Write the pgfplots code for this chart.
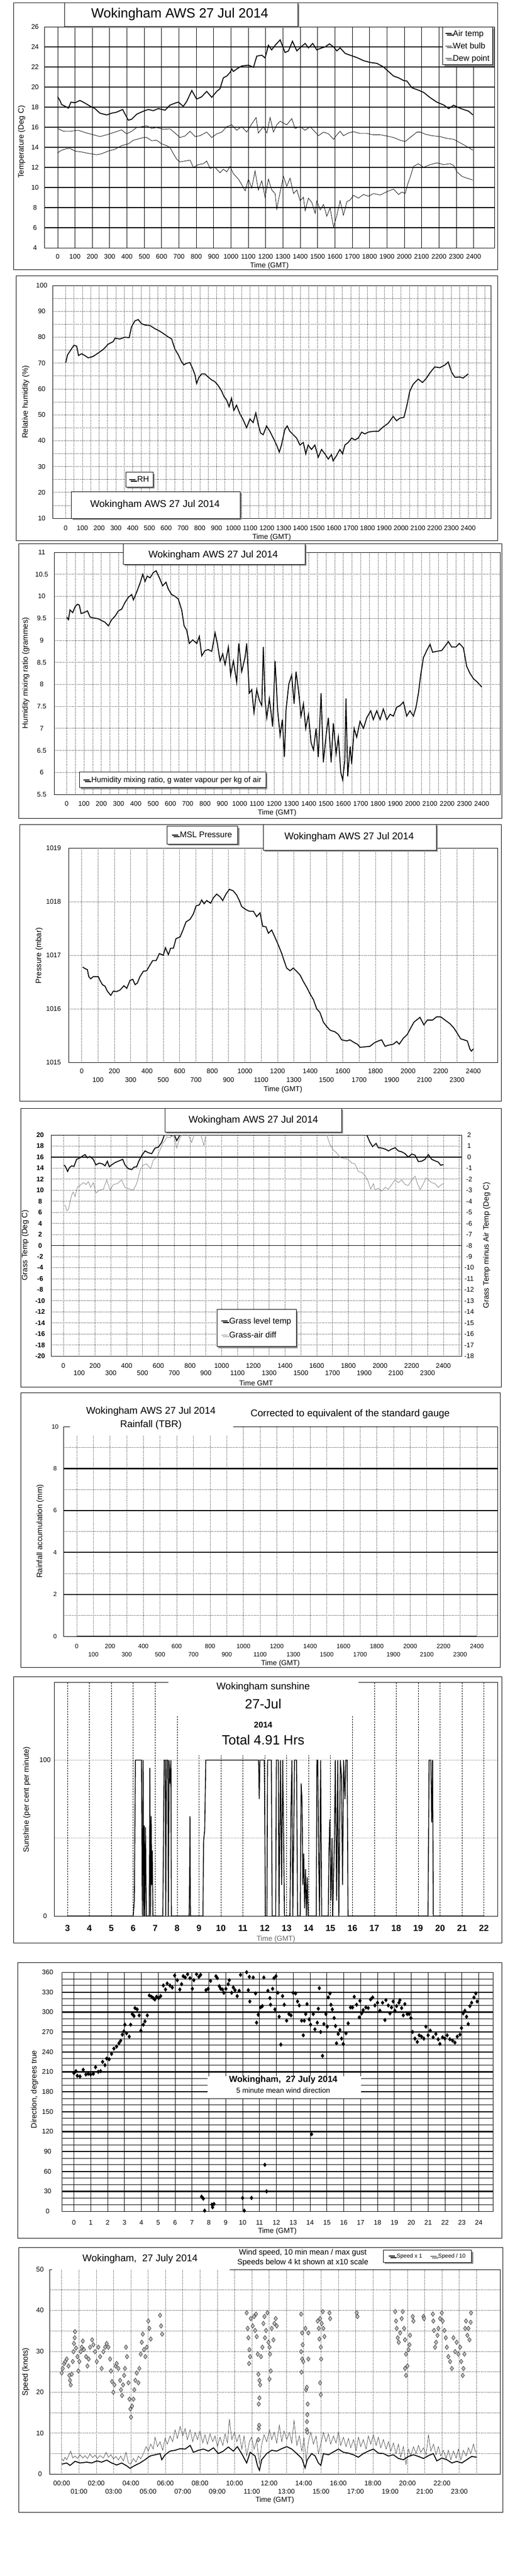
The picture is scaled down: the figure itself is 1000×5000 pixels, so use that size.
\documentclass[border=0pt]{standalone}
\usepackage{fontspec}
\setmainfont{Liberation Sans}
\usepackage{pgfplots}
\pgfplotsset{compat=1.18}
\usetikzlibrary{shadows}
\newcommand{\fs}[1]{\fontsize{#1pt}{#1pt}\selectfont}
\tikzset{
  shad/.style={drop shadow={shadow xshift=3pt, shadow yshift=-3pt, fill=black!45, opacity=1}},
  tbox/.style={draw=black, line width=1pt, fill=white, shad},
}
\pgfplotsset{
  base/.style={scale only axis, anchor=north west,
    axis line style={line width=0.9pt},
    tick style={draw=none}, major tick length=0pt, minor tick length=0pt,
    ticklabel style={font=\fs{13}},
    xlabel style={font=\fs{14}}, ylabel style={font=\fs{15}},
    /pgf/number format/assume math mode=true,
    /pgf/number format/1000 sep={},
    legend cell align=left,
    legend style={draw=black, line width=0.9pt, fill=white, shad, font=\fs{16}},
    legend image code/.code={\draw[##1] (0pt,0pt) -- (12pt,0pt);},
  },
  dotgrid/.style={grid style={black!85, dotted, line width=0.7pt}},
  thk/.style={black, line width=1.8pt},
  thn/.style={black, line width=0.8pt},
}
\begin{document}
\begin{tikzpicture}
\path[fill=white] (0pt,0pt) rectangle (1000pt,-5000pt);

% ---------- 1: temperature ----------
\begin{axis}[base, at={(86pt,-52pt)}, width=874pt, height=429pt,
  xmin=-77, xmax=2520, ymin=4, ymax=26,
  xtick={0,100,...,2400}, ytick={4,6,...,26},
  xmajorgrids, x grid style={black, line width=0.8pt},
  extra y ticks={6,8,...,24}, extra y tick labels={},
  extra y tick style={grid=major, major grid style={black, line width=2.2pt}},
  xticklabel style={anchor=center, yshift=-17pt},
  yticklabel style={anchor=center, xshift=-18pt},
  xlabel={Time (GMT)}, xlabel style={at={(axis description cs:0.5,-0.0816)}, anchor=center},
  ylabel={Temperature (Deg C)}, ylabel style={at={(axis description cs:-0.0503,0.48)}, anchor=center},
  legend style={at={(axis description cs:0.9966,1)}, anchor=north east, row sep=7pt, inner sep=4pt},
]
\addplot[thk] coordinates {(0,19.03) (13,18.67) (23,18.26) (42,18.1) (62,17.9) (77,18.5) (100,18.44) (129,18.67) (158,18.4) (187,18.1) (215,17.86) (244,17.4) (283,17.23) (312,17.4) (340,17.5) (375,17.77) (383,17.5) (408,16.7) (427,16.8) (456,17.3) (495,17.6) (523,17.77) (552,17.65) (581,17.86) (620,17.7) (648,18.2) (677,18.4) (697,18.5) (725,18.08) (745,18.58) (774,19.66) (802,18.8) (831,19.03) (860,19.57) (889,18.98) (918,19.57) (937,19.84) (956,20.92) (976,21.1) (995,21.46) (1005,21.8) (1014,21.55) (1033,21.8) (1062,22.1) (1101,22.18) (1130,21.97) (1149,23.08) (1178,23.17) (1197,22.9) (1216,24.16) (1235,23.7) (1255,24.16) (1284,24.7) (1312,23.44) (1332,23.6) (1355,24.56) (1380,23.6) (1409,24.07) (1428,24.34) (1447,23.9) (1472,24.34) (1495,23.7) (1524,23.9) (1544,24.0) (1568,24.3) (1592,24.0) (1611,23.6) (1630,23.9) (1659,23.35) (1688,23.17) (1726,22.94) (1765,22.63) (1803,22.45) (1842,22.36) (1880,22.0) (1909,21.55) (1938,21.1) (1967,20.92) (1996,20.65) (2015,20.6) (2044,19.93) (2073,19.75) (2111,19.48) (2150,18.94) (2188,18.5) (2227,18.22) (2256,17.86) (2285,18.19) (2314,17.95) (2342,17.77) (2371,17.6) (2396,17.23)};
\addlegendentry{Air temp}
\addplot[thn] coordinates {(0,15.88) (33,15.61) (71,15.6) (119,15.7) (167,15.43) (206,15.25) (244,15.07) (283,15.25) (331,15.52) (369,15.74) (398,15.34) (427,15.6) (456,15.97) (485,16.06) (514,16.15) (543,15.88) (571,15.97) (610,15.8) (648,15.85) (677,15.43) (706,14.98) (735,15.13) (764,15.6) (793,15.07) (822,15.16) (860,15.52) (889,14.98) (918,15.34) (947,15.52) (976,16.06) (1005,16.24) (1033,15.7) (1062,16.06) (1091,15.52) (1120,16.33) (1145,16.96) (1158,15.43) (1187,16.06) (1207,15.43) (1226,16.96) (1245,15.52) (1264,16.24) (1284,16.6) (1303,16.42) (1322,16.24) (1351,16.87) (1370,15.88) (1399,16.06) (1428,15.7) (1457,16.06) (1486,15.52) (1505,15.16) (1534,15.52) (1563,15.34) (1592,14.8) (1611,15.25) (1630,15.6) (1649,15.16) (1678,15.43) (1707,15.56) (1745,15.38) (1784,15.38) (1822,15.25) (1861,15.25) (1899,15.13) (1938,14.98) (1976,14.71) (2005,14.58) (2034,14.98) (2073,15.52) (2092,15.52) (2121,15.31) (2159,15.16) (2207,15.07) (2246,14.89) (2285,14.8) (2314,14.53) (2352,14.17) (2396,13.72)};
\addlegendentry{Wet bulb}
\addplot[thn] coordinates {(0,13.45) (23,13.72) (52,13.87) (71,13.9) (100,13.63) (138,13.54) (177,13.4) (225,13.27) (254,13.36) (292,13.63) (331,13.81) (369,14.17) (408,14.35) (437,14.71) (466,14.84) (495,14.98) (514,14.98) (543,14.66) (571,14.71) (600,14.35) (629,14.17) (648,13.99) (668,13.36) (687,12.82) (706,12.55) (735,12.64) (764,12.73) (783,12.01) (812,12.28) (841,12.37) (860,12.64) (879,11.92) (908,12.01) (937,11.47) (956,11.83) (976,11.56) (995,12.1) (1014,11.38) (1043,10.84) (1062,10.3) (1082,9.67) (1101,10.84) (1120,9.94) (1139,11.65) (1158,9.76) (1178,10.66) (1197,9.04) (1216,10.84) (1235,9.76) (1255,9.4) (1264,7.85) (1284,9.58) (1303,11.11) (1322,10.12) (1341,10.93) (1361,9.4) (1380,9.76) (1399,8.68) (1418,9.04) (1428,7.7) (1447,8.95) (1467,8.5) (1486,7.42) (1495,8.68) (1515,7.78) (1534,8.32) (1553,7.15) (1572,7.96) (1592,6.07) (1611,7.24) (1630,8.68) (1649,7.24) (1669,8.59) (1688,8.77) (1707,9.22) (1736,8.95) (1765,9.31) (1794,9.13) (1822,9.4) (1861,9.26) (1899,9.58) (1938,9.85) (1967,9.31) (1986,9.55) (2005,9.4) (2019,10.3) (2034,11.02) (2053,12.1) (2082,12.37) (2111,12.01) (2150,12.28) (2188,12.46) (2227,12.28) (2265,12.37) (2285,12.19) (2304,11.56) (2333,11.11) (2362,10.93) (2396,10.75)};
\addlegendentry{Dew point}
\end{axis}

% ---------- 2: relative humidity ----------
\begin{axis}[base, dotgrid, at={(102pt,-554pt)}, width=851pt, height=452pt,
  xmin=-78, xmax=2535, ymin=10, ymax=100,
  xtick={0,100,...,2400}, minor xtick={50,150,...,2450,2500},
  ytick={10,20,...,100}, minor ytick={15,25,...,95}, grid=both,
  xticklabel style={anchor=center, yshift=-19pt},
  yticklabel style={anchor=center, xshift=-21pt},
  xlabel={Time (GMT)}, xlabel style={at={(axis description cs:0.5,-0.0819)}, anchor=center},
  ylabel={Relative humidity (\%)}, ylabel style={at={(axis description cs:-0.0611,0.5)}, anchor=center},
  legend style={at={(axis description cs:0.1669,0.199)}, anchor=north west, inner sep=6pt},
]
\addplot[thk] coordinates {(0,70.1) (12,73.2) (26,74.6) (36,75.6) (50,76.9) (66,76.5) (77,72.9) (95,73.6) (115,72.9) (135,72.0) (165,72.6) (195,73.9) (225,75.3) (254,77.3) (284,78.3) (294,79.6) (324,79.3) (354,80.0) (379,79.8) (393,84.0) (413,86.3) (433,86.8) (453,85.2) (473,84.7) (503,84.5) (532,83.3) (562,82.3) (592,81.0) (612,80.1) (632,79.3) (652,75.3) (672,73.2) (691,70.5) (705,69.3) (721,69.9) (741,70.2) (757,67.9) (771,65.5) (781,62.1) (795,64.5) (811,65.8) (830,65.8) (850,64.6) (870,63.5) (890,62.8) (910,61.3) (930,59.2) (944,57.1) (960,55.7) (975,53.1) (989,56.4) (1003,51.7) (1019,53.7) (1039,50.4) (1059,48.0) (1079,45.0) (1099,48.4) (1118,47.0) (1134,50.7) (1148,46.4) (1162,43.0) (1178,42.3) (1198,45.7) (1218,43.6) (1238,41.0) (1258,38.3) (1274,35.6) (1287,38.3) (1307,44.3) (1321,45.7) (1337,43.6) (1357,42.3) (1377,41.0) (1397,38.3) (1417,39.3) (1432,34.9) (1446,38.3) (1466,36.6) (1486,38.3) (1506,33.6) (1526,36.6) (1546,34.9) (1566,32.9) (1585,34.6) (1595,32.2) (1615,34.2) (1635,36.6) (1651,34.9) (1665,38.3) (1685,39.3) (1705,41.0) (1725,40.3) (1745,41.0) (1765,43.3) (1784,42.6) (1804,43.3) (1834,43.6) (1864,43.6) (1893,45.3) (1923,46.7) (1953,49.4) (1973,47.7) (1993,48.7) (2017,49.0) (2033,53.1) (2052,59.1) (2072,61.8) (2102,63.8) (2128,62.5) (2152,64.2) (2172,66.2) (2201,68.5) (2231,68.2) (2261,69.2) (2281,70.4) (2301,66.5) (2321,64.5) (2350,64.6) (2370,64.2) (2400,65.8)};
\addlegendentry{RH}
\end{axis}

% ---------- 3: mixing ratio ----------
\begin{axis}[base, dotgrid, at={(105pt,-1072pt)}, width=866pt, height=470pt,
  xmin=-73, xmax=2506, ymin=5.5, ymax=11,
  xtick={0,100,...,2400}, minor xtick={50,150,...,2450},
  ytick={5.5,6,...,11}, grid=both,
  xticklabel style={anchor=center, yshift=-18pt},
  yticklabel style={anchor=center, xshift=-24pt},
  xlabel={Time (GMT)}, xlabel style={at={(axis description cs:0.5,-0.0766)}, anchor=center},
  ylabel={Humidity mixing ratio (grammes)}, ylabel style={at={(axis description cs:-0.0635,0.502)}, anchor=center},
  legend style={at={(axis description cs:0.0566,0.0936)}, anchor=north west, font=\fs{15}, inner sep=7pt},
]
\addplot[thk] coordinates {(0,9.53) (10,9.47) (19,9.69) (35,9.63) (48,9.76) (62,9.82) (73,9.80) (83,9.61) (100,9.63) (120,9.67) (135,9.53) (154,9.51) (183,9.49) (202,9.45) (222,9.41) (241,9.33) (260,9.47) (280,9.55) (299,9.67) (318,9.71) (337,9.86) (357,9.98) (376,10.04) (386,9.92) (405,10.10) (424,10.30) (440,10.50) (453,10.34) (466,10.46) (482,10.42) (501,10.54) (517,10.58) (536,10.42) (555,10.24) (574,10.32) (588,10.16) (607,10.04) (626,10.0) (645,9.94) (665,9.69) (679,9.33) (694,9.23) (709,8.93) (729,9.01) (752,8.93) (767,9.09) (781,8.65) (800,8.77) (819,8.79) (839,8.75) (858,9.17) (871,8.93) (887,8.53) (902,8.69) (916,8.45) (935,8.85) (948,8.21) (964,8.53) (983,8.05) (995,8.93) (1012,8.29) (1031,8.61) (1041,8.93) (1056,7.80) (1070,7.88) (1083,7.36) (1099,7.88) (1114,7.64) (1128,7.52) (1137,8.85) (1147,7.64) (1157,7.24) (1172,7.68) (1191,7.04) (1205,8.53) (1220,7.40) (1234,6.84) (1247,7.20) (1259,6.35) (1268,7.40) (1284,8.0) (1301,8.21) (1315,7.56) (1326,8.29) (1340,7.88) (1355,7.28) (1369,7.56) (1382,7.0) (1398,7.32) (1413,6.68) (1427,6.51) (1442,7.0) (1455,6.35) (1471,7.80) (1484,6.23) (1500,6.84) (1513,7.24) (1529,6.23) (1542,7.12) (1558,6.43) (1571,6.80) (1585,6.0) (1596,5.83) (1608,6.27) (1615,7.68) (1625,5.91) (1639,6.59) (1648,6.19) (1662,7.0) (1677,6.80) (1696,7.16) (1716,7.0) (1735,7.24) (1758,7.40) (1773,7.20) (1793,7.40) (1812,7.20) (1831,7.44) (1851,7.20) (1870,7.32) (1889,7.28) (1908,7.48) (1928,7.52) (1947,7.60) (1966,7.28) (1985,7.40) (2005,7.28) (2020,7.48) (2034,7.80) (2047,8.21) (2063,8.61) (2082,8.77) (2101,8.91) (2116,8.73) (2140,8.75) (2169,8.77) (2188,8.87) (2207,8.97) (2226,8.85) (2251,8.85) (2270,8.93) (2294,8.83) (2313,8.41) (2332,8.25) (2352,8.13) (2375,8.05) (2400,7.94)};
\addlegendentry{Humidity mixing ratio, g water vapour per kg of air}
\end{axis}

% ---------- 4: pressure ----------
\begin{axis}[base, dotgrid, at={(133pt,-1646pt)}, width=833pt, height=416pt,
  xmin=-81, xmax=2548, ymin=1015, ymax=1019,
  xtick={0,200,...,2400}, ytick={1015,1016,...,1019}, grid=major,
  extra x ticks={100,300,...,2300},
  extra x tick style={grid=major, xticklabel style={yshift=-17pt}},
  xticklabel style={anchor=center, yshift=-17pt},
  yticklabel style={anchor=center, xshift=-29pt},
  xlabel={Time (GMT)}, xlabel style={at={(axis description cs:0.5,-0.1274)}, anchor=center},
  ylabel={Pressure (mbar)}, ylabel style={at={(axis description cs:-0.0684,0.498)}, anchor=center},
  legend style={at={(axis description cs:0.2293,1.103)}, anchor=north west, inner sep=9pt},
]
\addplot[thk] coordinates {(6,1016.78) (20,1016.75) (35,1016.73) (43,1016.60) (55,1016.56) (71,1016.60) (102,1016.60) (112,1016.53) (127,1016.45) (143,1016.42) (157,1016.33) (178,1016.25) (194,1016.33) (214,1016.32) (235,1016.35) (259,1016.43) (276,1016.38) (296,1016.53) (313,1016.55) (327,1016.45) (341,1016.48) (357,1016.60) (378,1016.70) (398,1016.71) (415,1016.80) (435,1016.90) (456,1016.90) (476,1017.03) (500,1017.0) (513,1017.14) (531,1017.01) (545,1017.13) (562,1017.13) (578,1017.31) (603,1017.34) (623,1017.49) (639,1017.62) (664,1017.67) (684,1017.77) (701,1017.92) (721,1017.94) (735,1018.03) (750,1017.96) (766,1018.02) (790,1017.97) (807,1018.07) (827,1018.14) (848,1018.09) (864,1018.02) (884,1018.14) (905,1018.23) (929,1018.20) (950,1018.12) (966,1018.02) (980,1017.91) (1001,1017.86) (1027,1017.82) (1052,1017.82) (1072,1017.72) (1093,1017.79) (1109,1017.54) (1129,1017.53) (1144,1017.41) (1164,1017.47) (1185,1017.33) (1205,1017.19) (1226,1017.03) (1240,1016.90) (1256,1016.76) (1277,1016.71) (1297,1016.76) (1317,1016.70) (1338,1016.63) (1358,1016.51) (1379,1016.40) (1399,1016.28) (1420,1016.17) (1440,1016.0) (1460,1015.93) (1481,1015.75) (1501,1015.67) (1522,1015.60) (1552,1015.57) (1573,1015.52) (1593,1015.42) (1624,1015.40) (1644,1015.42) (1669,1015.37) (1689,1015.34) (1706,1015.28) (1736,1015.29) (1767,1015.30) (1791,1015.36) (1818,1015.40) (1838,1015.42) (1859,1015.30) (1879,1015.32) (1910,1015.34) (1930,1015.39) (1946,1015.34) (1971,1015.45) (1995,1015.52) (2016,1015.64) (2036,1015.75) (2052,1015.79) (2073,1015.84) (2097,1015.70) (2118,1015.79) (2150,1015.79) (2175,1015.85) (2200,1015.85) (2226,1015.79) (2257,1015.72) (2281,1015.64) (2302,1015.54) (2322,1015.44) (2343,1015.42) (2363,1015.40) (2380,1015.24) (2388,1015.21) (2400,1015.25)};
\addlegendentry{MSL Pressure}
\end{axis}

% ---------- 5: grass temperature ----------
\begin{axis}[base, dotgrid, at={(99pt,-2203pt)}, width=797pt, height=429pt,
  xmin=-78, xmax=2514, ymin=-20, ymax=20,
  xtick={0,200,...,2400}, ytick={-20,-18,...,20}, grid=major,
  extra x ticks={100,300,...,2500}, extra x tick labels={100,300,500,700,900,1100,1300,1500,1700,1900,2100,2300,{}},
  extra x tick style={grid=major, xticklabel style={yshift=-14pt}},
  xticklabel style={anchor=center, yshift=-19pt},
  yticklabel style={anchor=center, xshift=-21pt, font=\bfseries\fs{13}},
  xlabel={Time GMT}, xlabel style={at={(axis description cs:0.5,-0.1212)}, anchor=center},
  ylabel={Grass Temp (Deg C)}, ylabel style={at={(axis description cs:-0.0627,0.501)}, anchor=center},
  legend style={at={(axis description cs:0.404,0.212)}, anchor=north west, row sep=10pt, inner xsep=8pt, inner ysep=14pt},
]
\draw[black, line width=0.8pt] (axis cs:-78,0) -- (axis cs:2514,0);
\addplot[thk] coordinates {(6,14.59) (15,14.18) (27,13.40) (38,14.08) (53,14.42) (67,14.31) (84,15.60) (105,15.87) (126,16.28) (137,16.45) (152,15.87) (168,16.11) (189,15.60) (206,14.59) (227,14.92) (248,14.76) (263,14.42) (278,15.26) (290,14.25) (305,14.59) (326,15.0) (347,15.26) (375,15.60) (389,14.59) (410,13.91) (432,13.74) (446,14.18) (463,14.25) (474,15.09) (495,16.28) (516,17.12) (537,16.79) (558,16.62) (579,17.63) (600,17.80) (621,18.65) (638,20.0) (663,20.2) (684,19.83) (699,20.2) (716,18.98) (733,19.83) (747,20.34) (800,23) (1000,27) (1200,30) (1400,30) (1600,27) (1800,23) (1916,20.0) (1937,18.65) (1953,17.90) (1975,18.48) (1989,17.70) (2011,17.63) (2032,17.46) (2053,17.12) (2074,17.46) (2095,17.70) (2116,17.12) (2137,16.95) (2158,16.62) (2179,16.0) (2200,16.55) (2221,16.35) (2242,15.19) (2263,15.26) (2284,15.60) (2305,16.45) (2326,15.60) (2347,15.33) (2368,15.09) (2383,14.52) (2400,14.65)};
\addlegendentry{Grass level temp}
\addlegendimage{gray, line width=0.8pt}
\addlegendentry{Grass-air diff}
\end{axis}
\begin{axis}[base, at={(99pt,-2203pt)}, width=797pt, height=429pt,
  xmin=-78, xmax=2514, ymin=-18, ymax=2,
  axis y line*=right, axis x line=none,
  ytick={-18,-17,...,2},
  extra y ticks={0}, extra y tick labels={},
  extra y tick style={grid=major, major grid style={black, line width=1.8pt}},
  yticklabel style={anchor=center, xshift=15pt},
  ylabel={Grass Temp minus Air Temp (Deg C)}, ylabel style={at={(axis description cs:1.0615,0.501)}, anchor=center, rotate=0},
]
\addplot[gray, line width=0.8pt] coordinates {(6,-4.35) (15,-4.43) (21,-4.85) (32,-4.77) (42,-4.09) (53,-3.41) (63,-3.16) (74,-3.58) (88,-2.74) (105,-2.57) (126,-2.31) (143,-2.48) (158,-2.23) (173,-2.74) (189,-2.31) (206,-3.25) (227,-2.99) (253,-2.91) (274,-2.06) (295,-2.99) (316,-2.48) (341,-2.40) (368,-2.06) (389,-2.74) (421,-2.91) (442,-2.99) (463,-2.40) (484,-1.21) (505,-0.71) (526,-0.62) (551,-1.05) (568,-0.28) (589,-0.03) (606,0.48) (627,1.24) (642,1.49) (653,1.83) (674,1.75) (690,2.08) (705,1.58) (716,0.82) (733,1.66) (754,2.1) (780,2.3) (810,1.32) (831,2.2) (860,2.4) (888,1.07) (901,2.1) (1000,3.0) (1200,3.6) (1400,3.5) (1600,2.6) (1663,2.0) (1684,1.15) (1705,0.65) (1726,0.39) (1747,-0.03) (1768,-0.11) (1800,-0.2) (1821,-0.54) (1842,-0.62) (1863,-1.30) (1884,-1.38) (1905,-1.64) (1926,-2.23) (1941,-2.91) (1958,-2.40) (1968,-2.99) (1989,-2.82) (2011,-3.08) (2032,-2.74) (2053,-2.91) (2074,-2.48) (2095,-2.06) (2116,-2.31) (2137,-2.06) (2158,-2.48) (2179,-2.57) (2200,-2.06) (2221,-1.72) (2236,-2.40) (2253,-2.94) (2274,-2.40) (2290,-1.89) (2305,-2.06) (2326,-2.31) (2347,-2.40) (2368,-2.74) (2389,-2.48) (2400,-2.40)};
\end{axis}

% ---------- 6: rainfall ----------
\begin{axis}[base, at={(123pt,-2769pt)}, width=843pt, height=407pt,
  xmin=-80, xmax=2524, ymin=0, ymax=10,
  xtick={0,200,...,2400}, ytick={0,2,...,10},
  minor ytick={1,3,...,9},
  xmajorgrids, yminorgrids,
  x grid style={black!85, dotted, line width=0.7pt},
  minor grid style={black!85, dotted, line width=0.7pt},
  extra y ticks={2,4,6,8}, extra y tick labels={},
  extra y tick style={grid=major, major grid style={black, line width=2.2pt}},
  extra x ticks={100,300,...,2300},
  extra x tick style={grid=major, major grid style={black!85, dotted, line width=0.7pt}, xticklabel style={yshift=-16pt}},
  ticklabel style={font=\fs{12}},
  xticklabel style={anchor=center, yshift=-19pt},
  yticklabel style={anchor=center, xshift=-16pt},
  xlabel={Time (GMT)}, xlabel style={at={(axis description cs:0.5,-0.1302)}, anchor=center},
  ylabel={Rainfall accumulation (mm)}, ylabel style={at={(axis description cs:-0.0534,0.501)}, anchor=center},
]
\addplot[black, line width=2pt] coordinates {(0,0) (2400,0)};
\end{axis}

% ---------- 7: sunshine ----------
\begin{axis}[base, at={(105.5pt,-3265pt)}, width=860.5pt, height=454pt,
  xmin=2.4, xmax=22.62, ymin=0, ymax=150,
  xtick={3,4,...,22}, ytick={0,100},
  xmajorgrids, ymajorgrids,
  x grid style={black, dash pattern=on 3pt off 2pt, line width=0.6pt},
  y grid style={black!55, dotted, line width=0.8pt},
  extra y ticks={50}, extra y tick labels={},
  extra y tick style={grid=major},
  xticklabel style={anchor=center, yshift=-24pt, font=\bfseries\fs{17}},
  yticklabel style={anchor=center, xshift=-18pt},
  xlabel={Time (GMT)}, xlabel style={at={(axis description cs:0.5,-0.0991)}, anchor=center, text=black!60},
  ylabel={Sunshine (per cent per minute)}, ylabel style={at={(axis description cs:-0.0622,0.498)}, anchor=center},
]
\addplot[black, line width=1.6pt] coordinates {(3,0) (6.0,0) (6.05,10) (6.1,100) (6.38,100) (6.40,31) (6.42,0) (6.45,100) (6.48,0) (6.50,58) (6.53,0) (6.56,57) (6.60,0) (6.73,0) (6.76,95) (6.79,0) (6.82,64) (6.84,20) (6.87,42) (6.90,0) (7.35,0) (7.38,50) (7.41,100) (7.46,100) (7.48,0) (7.52,100) (7.58,100) (7.60,0) (7.64,100) (7.67,85) (7.72,100) (7.74,0) (8.55,0) (8.57,20) (8.59,64) (8.61,0) (9.18,0) (9.21,48) (9.26,55) (9.31,100) (11.72,100) (11.75,75) (11.78,100) (11.98,100) (12.00,65) (12.03,0) (12.10,0) (12.13,100) (12.30,100) (12.34,0) (12.50,0) (12.53,100) (12.62,100) (12.65,0) (12.72,100) (12.77,20) (12.82,100) (12.86,55) (12.90,0) (13.15,0) (13.20,70) (13.24,100) (13.28,0) (13.36,100) (13.45,100) (13.50,0) (13.62,0) (13.66,85) (13.70,75) (13.74,20) (13.78,40) (13.82,5) (13.86,30) (13.90,0) (13.94,25) (13.98,0) (14.35,0) (14.38,100) (14.42,100) (14.45,50) (14.50,0) (14.55,100) (14.60,0) (14.90,0) (14.93,40) (14.97,62) (15.02,10) (15.07,50) (15.10,0) (15.18,50) (15.22,100) (15.28,10) (15.33,100) (15.38,0) (15.45,100) (15.50,90) (15.55,20) (15.60,100) (15.66,75) (15.70,100) (15.76,100) (15.80,0) (19.45,0) (19.50,100) (19.58,100) (19.62,60) (19.66,100) (19.69,0) (22,0)};
\end{axis}

% ---------- 8: wind direction ----------
\begin{axis}[base, at={(120pt,-3828pt)}, width=837pt, height=464pt,
  xmin=-0.72, xmax=24.84, ymin=0, ymax=360,
  xtick={0,1,...,24}, ytick={0,30,...,360},
  minor ytick={10,20,...,350},
  xmajorgrids, yminorgrids,
  x grid style={black, line width=0.8pt},
  minor grid style={black, line width=0.8pt},
  extra y ticks={30,60,...,330}, extra y tick labels={},
  extra y tick style={grid=major, major grid style={black, line width=2.4pt}},
  xticklabel style={anchor=center, yshift=-22pt},
  yticklabel style={anchor=center, xshift=-27.5pt},
  xlabel={Time (GMT)}, xlabel style={at={(axis description cs:0.5,-0.0841)}, anchor=center},
  ylabel={Direction, degrees true}, ylabel style={at={(axis description cs:-0.0633,0.509)}, anchor=center},
]
\addplot[only marks, mark=diamond*, mark size=4pt, black] coordinates {(0,208) (0.12,211) (0.2,204) (0.36,203) (0.55,213) (0.71,206) (0.85,207) (0.99,206) (1.15,207) (1.28,217) (1.44,210) (1.58,211) (1.70,225) (1.84,220) (1.94,230) (2.09,229) (2.23,237) (2.37,245) (2.53,248) (2.67,253) (2.77,257) (2.87,266) (2.96,271) (3.02,281) (3.12,268) (3.28,263) (3.36,281) (3.46,297) (3.56,294) (3.62,306) (3.75,304) (3.87,295) (3.97,272) (4.11,281) (4.21,286) (4.35,295) (4.47,325) (4.6,323) (4.70,321) (4.80,319) (4.90,323) (5.02,321) (5.14,324) (5.30,340) (5.43,334) (5.53,343) (5.69,340) (5.83,337) (5.97,355) (6.13,348) (6.28,334) (6.38,342) (6.48,354) (6.60,352) (6.74,357) (6.88,351) (7.02,335) (7.11,348) (7.27,357) (7.41,353) (7.51,356) (7.57,22) (7.67,19) (7.75,1) (7.83,333) (7.96,335) (8.10,347) (8.18,10) (8.22,6) (8.30,11) (8.42,354) (8.50,351) (8.62,339) (8.70,335) (8.81,334) (8.89,329) (9.01,335) (9.15,342) (9.21,348) (9.35,329) (9.45,337) (9.55,333) (9.68,324) (9.80,332) (9.88,356) (10.0,20) (10.1,1) (10.24,360) (10.34,333) (10.4,353) (10.43,316) (10.53,20) (10.63,352) (10.77,328) (10.83,284) (10.93,296) (11.07,307) (11.17,309) (11.26,352) (11.32,70) (11.42,30) (11.50,332) (11.62,321) (11.66,311) (11.78,335) (11.86,351) (11.92,304) (11.98,354) (12.09,329) (12.17,293) (12.27,251) (12.37,324) (12.47,311) (12.61,287) (12.75,297) (12.87,295) (13.0,329) (13.14,328) (13.26,316) (13.36,310) (13.50,287) (13.60,265) (13.66,287) (13.74,297) (13.82,312) (13.95,289) (14.03,281) (14.09,116) (14.19,297) (14.29,274) (14.43,284) (14.49,305) (14.55,336) (14.63,270) (14.74,234) (14.82,282) (14.94,297) (15.02,278) (15.08,322) (15.18,328) (15.24,311) (15.32,304) (15.43,291) (15.51,279) (15.57,253) (15.67,267) (15.77,273) (15.87,260) (15.97,252) (16.13,268) (16.26,283) (16.40,307) (16.52,307) (16.62,323) (16.76,311) (16.92,292) (16.96,317) (17.06,298) (17.15,303) (17.31,307) (17.45,306) (17.59,319) (17.71,322) (17.85,310) (18.0,314) (18.14,302) (18.30,314) (18.44,288) (18.50,318) (18.64,310) (18.74,298) (18.83,307) (18.93,316) (19.03,302) (19.13,309) (19.27,314) (19.33,318) (19.43,306) (19.53,295) (19.62,312) (19.76,297) (19.88,297) (19.98,291) (20.08,270) (20.22,260) (20.36,255) (20.47,265) (20.61,263) (20.75,260) (20.87,278) (21.0,265) (21.13,272) (21.30,262) (21.46,267) (21.60,259) (21.70,252) (21.86,262) (22.0,260) (22.13,265) (22.29,259) (22.45,257) (22.59,254) (22.73,263) (22.89,266) (22.98,276) (23.08,298) (23.18,302) (23.28,293) (23.38,282) (23.48,309) (23.58,314) (23.72,322) (23.83,328) (23.91,316)};
\end{axis}

% ---------- 9: wind speed ----------
\begin{axis}[base, dotgrid, at={(96pt,-4405pt)}, width=875pt, height=397pt,
  xmin=-0.71, xmax=25.36, ymin=0, ymax=50,
  xtick={0,2,...,22},
  xticklabels={00:00,02:00,04:00,06:00,08:00,10:00,12:00,14:00,16:00,18:00,20:00,22:00},
  extra x ticks={1,3,...,23,24},
  extra x tick labels={01:00,03:00,05:00,07:00,09:00,11:00,13:00,15:00,17:00,19:00,21:00,23:00,{}},
  extra x tick style={grid=major, xticklabel style={yshift=-16pt}},
  ytick={0,10,...,50}, minor ytick={5,15,...,45}, grid=both,
  xticklabel style={anchor=center, yshift=-17.5pt},
  yticklabel style={anchor=center, xshift=-18.3pt},
  xlabel={Time (GMT)}, xlabel style={at={(axis description cs:0.5,-0.1285)}, anchor=center},
  ylabel={Speed (knots)}, ylabel style={at={(axis description cs:-0.0526,0.499)}, anchor=center},
  legend columns=2,
  legend style={at={(axis description cs:0.7406,1.0957)}, anchor=north west, font=\fs{11}, inner xsep=10pt, inner ysep=5pt, /tikz/every even column/.append style={column sep=14pt}},
]
\addplot[black!75, line width=0.7pt, forget plot] coordinates {(0,3.8) (0.10,3.2) (0.19,4.1) (0.29,3.5) (0.39,4.4) (0.52,5.6) (0.64,3.9) (0.77,4.4) (0.91,3.8) (1.06,4.7) (1.22,3.9) (1.35,4.5) (1.49,3.8) (1.64,4.9) (1.79,4.0) (1.93,4.6) (2.06,3.8) (2.22,4.5) (2.41,3.9) (2.57,5.3) (2.70,4.1) (2.85,4.7) (2.99,3.7) (3.14,4.3) (3.28,3.4) (3.41,4.4) (3.57,3.2) (3.72,5.3) (3.86,2.7) (3.99,2.4) (4.15,3.8) (4.30,2.9) (4.44,4.4) (4.57,3.7) (4.73,5.0) (4.88,6.7) (5.01,5.6) (5.15,7.3) (5.30,6.1) (5.40,9.0) (5.54,6.7) (5.69,7.9) (5.84,5.8) (5.98,8.7) (6.11,7.3) (6.27,9.3) (6.42,7.9) (6.56,10.8) (6.69,8.7) (6.85,11.6) (7.00,9.3) (7.14,11.1) (7.27,8.4) (7.43,10.8) (7.58,7.9) (7.72,10.2) (7.85,8.4) (8.00,10.5) (8.16,7.6) (8.29,9.6) (8.43,7.3) (8.58,9.8) (8.74,7.9) (8.87,9.3) (9.01,6.7) (9.16,9.0) (9.32,7.0) (9.45,9.8) (9.59,7.6) (9.70,13.4) (9.84,8.4) (9.99,10.2) (10.13,7.9) (10.28,9.6) (10.42,6.1) (10.55,9.3) (10.70,4.4) (10.86,7.9) (10.99,9.0) (11.13,6.1) (11.28,8.2) (11.44,2.4) (11.57,7.3) (11.71,9.6) (11.86,7.9) (12.02,10.8) (12.15,8.4) (12.29,10.2) (12.44,7.6) (12.59,11.9) (12.73,7.9) (12.86,10.5) (13.02,8.4) (13.17,10.2) (13.31,7.6) (13.44,13.1) (13.60,7.0) (13.75,9.3) (13.89,5.6) (14.02,8.7) (14.14,3.2) (14.27,7.9) (14.41,10.2) (14.56,7.3) (14.72,9.3) (14.85,5.0) (14.99,7.3) (15.14,10.2) (15.29,7.9) (15.43,9.8) (15.56,7.3) (15.72,9.3) (15.87,7.6) (16.01,10.2) (16.14,7.0) (16.30,9.0) (16.45,6.7) (16.59,8.7) (16.72,6.4) (16.88,8.4) (17.03,5.8) (17.17,9.0) (17.30,6.7) (17.45,8.4) (17.61,6.1) (17.74,9.3) (17.88,7.3) (18.03,9.6) (18.19,7.0) (18.32,9.0) (18.46,6.4) (18.61,8.4) (18.77,6.1) (18.90,7.9) (19.04,5.6) (19.19,7.6) (19.34,5.0) (19.48,7.3) (19.61,4.1) (19.77,6.7) (19.92,2.4) (20.06,6.1) (20.19,4.4) (20.35,6.7) (20.50,5.0) (20.64,7.0) (20.77,5.3) (20.93,6.4) (21.08,4.7) (21.22,9.6) (21.35,5.6) (21.51,7.3) (21.66,4.7) (21.79,6.7) (21.93,4.4) (22.08,5.8) (22.24,3.8) (22.37,5.8) (22.51,3.5) (22.66,5.6) (22.82,3.9) (22.95,6.1) (23.09,3.5) (23.24,5.8) (23.40,4.4) (23.53,6.4) (23.67,5.0) (23.82,7.3) (23.92,5.6) (24.01,5.3)};
\addplot[black, line width=1.8pt] coordinates {(0,2.4) (0.29,2.7) (0.48,2.1) (0.77,3.1) (1.06,2.7) (1.45,2.9) (1.74,2.7) (2.03,3.2) (2.31,2.9) (2.6,3.4) (2.89,2.7) (3.18,2.2) (3.47,2.7) (3.76,2.0) (3.95,1.4) (4.24,2.1) (4.53,2.7) (4.82,3.5) (5.11,4.4) (5.4,4.7) (5.69,5.0) (5.79,3.5) (5.98,4.7) (6.27,5.6) (6.56,5.8) (6.85,6.2) (7.14,6.1) (7.43,7.0) (7.62,5.3) (7.91,5.8) (8.2,6.1) (8.49,5.6) (8.78,6.4) (9.06,5.0) (9.35,5.6) (9.64,6.6) (9.93,5.6) (10.16,6.7) (10.41,5.0) (10.7,2.7) (10.9,5.3) (11.19,4.4) (11.32,2.1) (11.44,0.9) (11.57,3.5) (11.86,5.0) (12.15,5.8) (12.44,5.6) (12.73,6.2) (13.02,6.7) (13.31,6.1) (13.6,5.0) (13.89,3.8) (14.08,1.5) (14.21,3.5) (14.46,5.0) (14.66,4.4) (14.85,2.7) (14.99,2.1) (15.14,5.0) (15.43,4.7) (15.72,5.4) (16.01,6.1) (16.3,5.3) (16.59,5.1) (16.88,4.7) (17.16,4.1) (17.45,5.0) (17.74,5.6) (18.03,6.1) (18.32,5.1) (18.61,5.0) (18.9,4.4) (19.19,4.7) (19.48,3.8) (19.77,3.5) (20.06,4.3) (20.35,4.7) (20.64,4.3) (20.93,3.8) (21.22,4.5) (21.5,5.0) (21.7,3.2) (21.99,3.9) (22.28,3.5) (22.57,2.7) (22.86,3.1) (23.15,2.7) (23.43,3.5) (23.72,4.3) (24.01,4.1)};
\addlegendentry{Speed x 1}
\addplot[only marks, mark=diamond*, mark size=4.5pt, mark options={fill=black!25, draw=black, line width=0.5pt}] coordinates {(0,24.7) (0.06,25.8) (0.14,27.0) (0.21,27.5) (0.29,28.1) (0.39,26.4) (0.44,24.1) (0.48,22.9) (0.52,21.8) (0.58,24.4) (0.64,27.5) (0.68,29.9) (0.71,31.9) (0.75,33.3) (0.77,34.8) (0.83,30.8) (0.91,28.7) (0.96,25.2) (1.02,27.5) (1.10,29.9) (1.16,31.0) (1.22,32.5) (1.29,30.4) (1.41,28.7) (1.49,26.4) (1.56,28.1) (1.64,31.0) (1.76,32.8) (1.83,31.6) (1.93,29.9) (2.03,27.5) (2.12,31.0) (2.22,28.7) (2.31,25.8) (2.41,29.9) (2.51,31.0) (2.60,31.9) (2.70,31.0) (2.80,28.1) (2.85,25.2) (2.91,22.6) (2.99,20.0) (3.05,21.8) (3.12,26.4) (3.18,27.0) (3.28,25.8) (3.38,22.9) (3.43,20.6) (3.49,19.2) (3.55,21.8) (3.61,24.1) (3.66,25.8) (3.72,31.0) (3.78,28.7) (3.86,22.3) (3.92,18.3) (3.97,15.9) (4.01,13.9) (4.07,16.6) (4.15,18.3) (4.20,20.6) (4.26,22.9) (4.34,24.7) (4.44,22.3) (4.49,25.8) (4.57,29.3) (4.63,32.2) (4.69,34.2) (4.76,30.4) (4.84,28.7) (4.92,31.0) (5.01,37.4) (5.07,35.6) (5.15,33.0) (5.69,38.8) (5.75,36.2) (5.81,34.2) (10.70,39.4) (10.76,35.6) (10.80,33.3) (10.86,30.4) (10.90,28.7) (10.84,27.0) (10.94,38.0) (11.05,36.2) (11.13,38.5) (11.19,35.1) (11.24,39.1) (11.28,33.6) (11.34,29.3) (11.38,24.4) (11.44,22.9) (11.48,21.8) (11.40,17.1) (11.44,18.6) (11.42,11.9) (11.40,11.1) (11.38,8.4) (11.53,28.7) (11.61,31.0) (11.67,36.8) (11.73,38.5) (11.76,33.3) (11.82,35.1) (11.90,39.4) (11.96,32.2) (12.02,31.0) (12.05,29.3) (12.09,25.2) (12.02,23.2) (12.15,35.6) (12.25,32.8) (12.30,36.8) (12.38,38.0) (12.44,36.2) (13.85,39.1) (13.91,34.5) (13.94,31.6) (13.85,29.9) (13.91,28.1) (13.87,24.9) (13.98,27.5) (14.10,35.6) (14.14,20.6) (14.18,21.2) (14.21,14.5) (14.23,17.1) (14.19,12.8) (14.18,10.8) (14.21,10.2) (14.27,34.5) (14.27,28.1) (14.81,37.4) (14.87,35.6) (14.91,33.0) (14.95,38.0) (14.99,31.0) (15.01,28.1) (14.95,22.3) (14.99,19.4) (15.04,36.8) (15.10,39.7) (15.14,35.6) (15.20,33.6) (15.49,39.4) (15.53,38.0) (17.07,39.4) (17.11,38.5) (19.29,39.7) (19.34,37.4) (19.38,35.6) (19.44,33.3) (19.50,32.2) (19.58,34.5) (19.67,38.0) (19.73,39.7) (19.81,35.6) (19.86,32.8) (19.92,29.3) (19.86,25.8) (19.92,24.1) (20.0,26.4) (20.06,30.4) (20.12,31.6) (20.15,33.9) (20.31,38.5) (20.35,37.4) (20.93,38.5) (20.96,38.0) (21.47,39.1) (21.50,37.4) (21.54,35.1) (21.60,31.0) (21.66,32.2) (21.74,33.9) (21.79,35.6) (21.89,38.0) (21.99,39.4) (22.04,37.4) (22.14,35.1) (22.22,33.3) (22.28,31.0) (22.37,28.7) (22.47,27.5) (22.57,25.8) (22.66,33.3) (22.76,29.9) (22.85,32.2) (22.95,29.3) (23.05,31.0) (23.11,27.5) (23.20,24.1) (23.24,25.8) (23.30,29.3) (23.34,35.6) (23.39,37.4) (23.47,33.9) (23.53,35.6) (23.59,32.8) (23.66,37.1) (23.68,39.4)};
\addlegendentry{Speed / 10}
\end{axis}

% ---------- frames, title boxes and headings ----------
\begin{scope}[x=1pt, y=-1pt]
\draw[line width=1pt] (26,5) rectangle (966,523);
\draw[line width=1pt] (31,535) rectangle (966,1049);
\draw[line width=1pt] (36,1055) rectangle (974,1588);
\draw[line width=1pt] (38,1600) rectangle (973,2137);
\draw[line width=1pt] (40,2151) rectangle (973,2692);
\draw[line width=1pt] (40,2703) rectangle (971,3236);
\draw[line width=1pt] (26,3254) rectangle (974,3771);
\draw[line width=1pt] (34,3809) rectangle (974,4344);
\draw[line width=1pt] (36,4362) rectangle (976,4876);

\draw[tbox] (125,5) rectangle (578,51);
\node[font=\fs{26}] at (349,28) {Wokingham AWS 27 Jul 2014};

\draw[tbox] (138,954) rectangle (466,1006);
\node[font=\fs{19}] at (301,980) {Wokingham AWS 27 Jul 2014};

\draw[tbox] (239,1055) rectangle (592,1095);
\node[font=\fs{19}] at (414,1078) {Wokingham AWS 27 Jul 2014};

\draw[tbox] (511,1600) rectangle (847,1650);
\node[font=\fs{19}] at (678,1625) {Wokingham AWS 27 Jul 2014};

\draw[tbox] (320,2151) rectangle (663,2197);
\node[font=\fs{19}] at (492,2175) {Wokingham AWS 27 Jul 2014};

\fill[white] (136,2764) rectangle (453,2786);
\node[font=\fs{19}] at (293,2740) {Wokingham AWS 27 Jul 2014};
\node[font=\fs{19}] at (293,2766) {Rainfall (TBR)};
\node[font=\fs{19}] at (680,2745) {Corrected to equivalent of the standard gauge};

\fill[white] (327,3262) rectangle (696,3329);
\fill[white] (350,3329) rectangle (670,3407);
\node[font=\fs{19}] at (511,3275) {Wokingham sunshine};
\node[font=\fs{26}] at (511,3307) {27-Jul};
\node[font=\bfseries\fs{16}] at (511,3348) {2014};
\node[font=\fs{26}] at (511,3377) {Total 4.91 Hrs};

\fill[white] (403,4030) rectangle (701,4073);
\node[font=\bfseries\fs{17}] at (550,4037) {Wokingham,\ \ 27 July 2014};
\node[font=\fs{14}] at (550,4057) {5 minute mean wind direction};

\draw[white, line width=2pt] (101,4405) -- (446,4405);
\node[font=\fs{19}] at (272,4385) {Wokingham,\ \ 27 July 2014};
\node[font=\fs{15}] at (588,4373) {Wind speed, 10 min mean / max gust};
\node[font=\fs{15}] at (588,4392) {Speeds below 4 kt shown at x10 scale};
\end{scope}
\end{tikzpicture}
\end{document}
